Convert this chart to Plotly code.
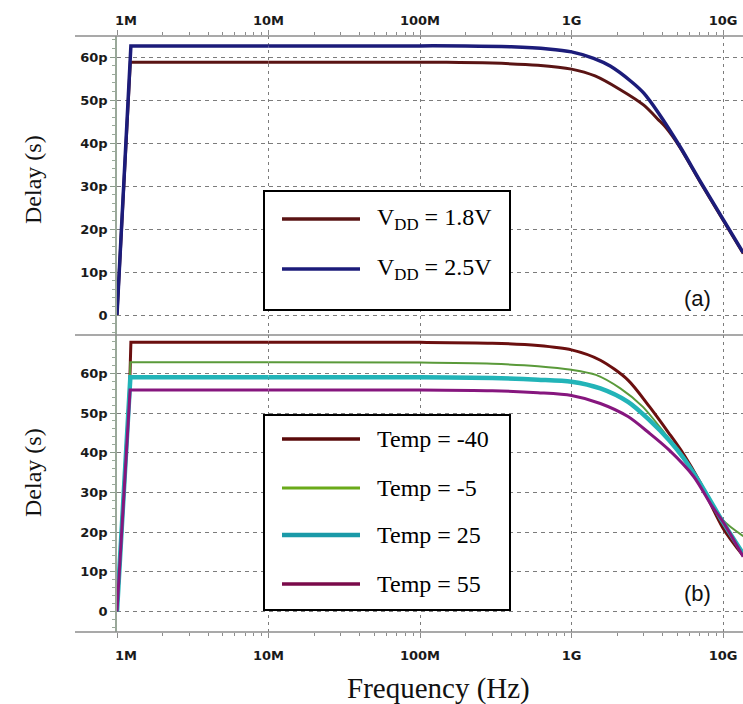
import plotly.graph_objects as go

# ---------------- data ----------------
# (a) supply-voltage sweep
vdd_labels = ["V<sub>DD</sub> = 1.8V", "V<sub>DD</sub> = 2.5V"]
vdd_colors = ["#5a1414", "#1c1c7a"]
vdd_widths = [3, 3.5]

f_vdd18 = [1.0e6, 1.21e6, 1.225e6, 1e7, 1e8, 1.5e8, 3e8, 6e8, 1e9, 1.43e9,
           2.1e9, 3.0e9, 3.75e9, 4.2e9, 5.2e9, 7e9, 1e10, 1.36e10]
d_vdd18 = [0, 57.5, 58.8, 58.8, 58.8, 58.8, 58.6, 58.1, 57.2, 55.6,
           52.4, 48.8, 45.4, 43.6, 39.0, 31.2, 22.1, 14.3]

f_vdd25 = [1.0e6, 1.235e6, 1e7, 1e8, 2e8, 4e8, 7e8, 1e9, 1.4e9, 1.8e9,
           2.5e9, 3.0e9, 3.75e9, 5.2e9, 7e9, 1e10, 1.36e10]
d_vdd25 = [0, 62.6, 62.6, 62.6, 62.6, 62.4, 61.9, 61.2, 59.7, 57.9,
           54.2, 51.6, 47.0, 39.2, 31.4, 22.3, 14.5]

# (b) temperature sweep
temp_labels = ["Temp = -40", "Temp = -5", "Temp = 25", "Temp = 55"]
temp_colors = ["#6b0f0f", "#5a9a3a", "#22b4b8", "#86167e"]
temp_widths = [3, 2, 4.5, 3]
temp_legend_colors = ["#5a0a0a", "#6aaa1a", "#1a9aa8", "#7a0a4a"]

f_tm40 = [1.0e6, 1.21e6, 1.235e6, 1e7, 1e8, 3e8, 6e8, 1e9, 1.55e9, 2.36e9,
          3.27e9, 4.4e9, 5.5e9, 7e9, 1e10, 1.36e10]
d_tm40 = [0, 55.8, 67.8, 67.8, 67.8, 67.6, 67.0, 65.9, 63.3, 58.3,
          51.6, 44.9, 39.6, 32.8, 21.0, 14.0]

f_tm5 = [1.0e6, 1.21e6, 1.225e6, 1e7, 1e8, 3e8, 6e8, 1e9, 1.45e9, 2.1e9,
         2.95e9, 4.3e9, 5.5e9, 7e9, 1e10, 1.36e10]
d_tm5 = [0, 55.8, 62.8, 62.8, 62.7, 62.4, 61.8, 60.9, 59.6, 56.2,
         51.6, 44.0, 38.8, 32.5, 23.0, 19.0]

f_t25 = [1.0e6, 1.21e6, 1.225e6, 1e7, 1e8, 3e8, 6e8, 1e9, 1.55e9, 2.36e9,
         3.27e9, 4.4e9, 5.5e9, 7e9, 1e10, 1.36e10]
d_t25 = [0, 55.8, 59.0, 59.0, 59.0, 58.8, 58.4, 57.9, 56.2, 52.8,
         48.2, 43.2, 38.6, 32.5, 22.5, 14.5]

f_t55 = [1.0e6, 1.22e6, 1e7, 1e8, 3e8, 6e8, 1e9, 1.55e9, 2.36e9, 3.27e9,
         4.4e9, 6.4e9, 8.5e9, 1e10, 1.36e10]
d_t55 = [0, 55.8, 55.8, 55.8, 55.6, 55.1, 54.4, 52.4, 49.1, 44.9,
         40.7, 34.0, 26.4, 22.6, 13.8]

# axis ticks
x_tickvals = [1e6, 1e7, 1e8, 1e9, 1e10]
x_ticktext = ["\u00a0\u00a0\u00a0\u00a01M", "10M", "100M", "1G", "10G"]
x_minor = [m * 10 ** e for e in range(6, 11) for m in range(2, 10)]
y_tickvals = [0, 10, 20, 30, 40, 50, 60]
y_ticktext = ["0", "10p", "20p", "30p", "40p", "50p", "60p"]

# ---------------- layout geometry (pixels) ----------------
W, H = 743, 704
L, T, B = 117, 36, 72
PW, PH = W - L, H - T - B


def px(x):
    return (x - L) / PW


def py(y):
    return (H - B - y) / PH


split = py(335)

fig = go.Figure()


def add_curve(f, d, name, c, w, xa, ya):
    # the steep start-up edge stays straight; the roll-off is smoothed
    k = next(i for i, v in enumerate(f) if v >= 1e7)
    fig.add_trace(go.Scatter(x=f[:k + 1], y=d[:k + 1], mode="lines", name=name,
                             line=dict(color=c, width=w),
                             xaxis=xa, yaxis=ya, showlegend=False))
    fig.add_trace(go.Scatter(x=f[k:], y=d[k:], mode="lines", name=name,
                             line=dict(color=c, width=w, shape="spline",
                                       smoothing=0.8),
                             xaxis=xa, yaxis=ya, showlegend=False))


for f, d, name, c, w in zip([f_vdd18, f_vdd25], [d_vdd18, d_vdd25],
                            vdd_labels, vdd_colors, vdd_widths):
    add_curve(f, d, name, c, w, "x", "y")

for f, d, name, c, w in zip([f_tm40, f_tm5, f_t25, f_t55],
                            [d_tm40, d_tm5, d_t25, d_t55],
                            temp_labels, temp_colors, temp_widths):
    add_curve(f, d, name, c, w, "x2", "y2")

tick_font = dict(family="DejaVu Sans", size=13, color="#1a1a1a", weight="bold")
grid_col = "#7c7c7c"

xcommon = dict(type="log", range=[6, 10.132], domain=[0, 1],
               tickvals=x_tickvals, ticktext=x_ticktext,
               ticks="outside", ticklen=5, tickwidth=1, tickcolor="#8c8c8c",
               showgrid=True, gridcolor=grid_col, griddash="3px,4px", gridwidth=1,
               showline=False, zeroline=False, tickfont=tick_font,
               minor=dict(tickvals=x_minor, ticks="outside", ticklen=3,
                          tickcolor="#8c8c8c", showgrid=False))
ycommon = dict(tickvals=y_tickvals, ticktext=y_ticktext,
               ticks="outside", ticklen=5, tickwidth=1, tickcolor="#8a9a8a",
               showline=True, linecolor="#9aa89a", linewidth=1.5,
               showgrid=True, gridcolor=grid_col, griddash="4px,4px", gridwidth=1,
               zeroline=False, tickfont=tick_font,
               minor=dict(tickmode="linear", tick0=0, dtick=2, ticks="outside",
                          ticklen=3, tickcolor="#9aaa9a", showgrid=False))

fig.update_layout(
    width=W, height=H,
    margin=dict(l=L, r=0, t=T, b=B),
    paper_bgcolor="white", plot_bgcolor="white",
    xaxis=dict(xcommon, anchor="y", side="top"),
    xaxis2=dict(xcommon, anchor="y2", side="bottom", ticklabelstandoff=6),
    yaxis=dict(ycommon, domain=[split, 1], range=[-4.65, 64.9], anchor="x"),
    yaxis2=dict(ycommon, domain=[0, split], range=[-5.16, 69.65], anchor="x2"),
)

shapes = []
# horizontal frame lines spanning the full width
for yy in [1, split, 0]:
    shapes.append(dict(type="line", xref="paper", yref="paper",
                       x0=px(75), x1=1, y0=yy, y1=yy,
                       line=dict(color="#8c8c8c", width=1.5)))

annotations = []


def legend_box(x0, x1, y0, y1, rows, labels, colors, widths):
    shapes.append(dict(type="rect", xref="paper", yref="paper",
                       x0=px(x0), x1=px(x1), y0=py(y0), y1=py(y1),
                       fillcolor="white", line=dict(color="black", width=2)))
    for ry, lab, c, w in zip(rows, labels, colors, widths):
        shapes.append(dict(type="line", xref="paper", yref="paper",
                           x0=px(x0 + 18), x1=px(x0 + 96), y0=py(ry), y1=py(ry),
                           line=dict(color=c, width=w)))
        annotations.append(dict(xref="paper", yref="paper", x=px(x0 + 111),
                                y=py(ry), xanchor="left", yanchor="middle",
                                text=lab, showarrow=False,
                                font=dict(family="Liberation Serif", size=24,
                                          color="black")))


legend_box(264, 510, 191, 310, [219, 269], vdd_labels, vdd_colors, [3.5, 3.5])
legend_box(264, 510, 415, 610, [439, 488, 535, 584], temp_labels,
           temp_legend_colors, [3.5, 3, 4.5, 3.5])

for lab, yy in [("(a)", 298), ("(b)", 593)]:
    annotations.append(dict(xref="paper", yref="paper", x=px(697), y=py(yy),
                            xanchor="center", yanchor="middle", text=lab,
                            showarrow=False,
                            font=dict(family="Liberation Sans", size=22,
                                      color="#111")))

for yy in [180, 473]:
    annotations.append(dict(xref="paper", yref="paper", x=px(33), y=py(yy),
                            xanchor="center", yanchor="middle",
                            text="Delay (s)", textangle=-90, showarrow=False,
                            font=dict(family="Liberation Serif", size=24,
                                      color="#111")))

annotations.append(dict(xref="paper", yref="paper", x=px(438), y=py(688),
                        xanchor="center", yanchor="middle",
                        text="Frequency (Hz)", showarrow=False,
                        font=dict(family="Liberation Serif", size=29,
                                  color="#111")))

fig.update_layout(shapes=shapes, annotations=annotations)

fig.write_html("out.html")
